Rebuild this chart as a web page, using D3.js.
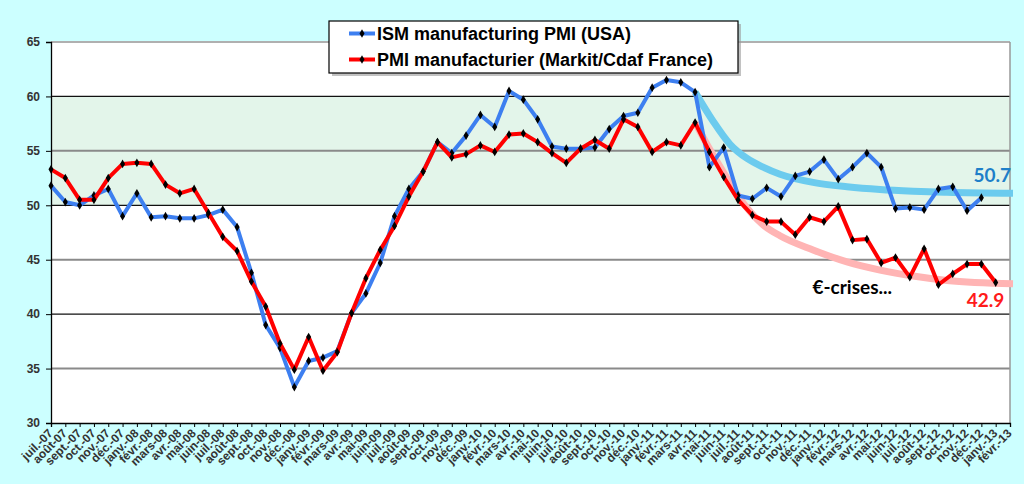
<!DOCTYPE html>
<html>
<head>
<meta charset="utf-8">
<script src="https://cdn.jsdelivr.net/npm/d3@7"></script>
<style>
  body { margin: 0; background: #ccffff; }
  svg { display: block; }
</style>
</head>
<body>
<svg id="chart"></svg>
<script>
/* Données */
const months = [
  'juil.-07','août-07','sept.-07','oct.-07','nov.-07','déc.-07',
  'janv.-08','févr.-08','mars-08','avr.-08','mai-08','juin-08','juil.-08','août-08','sept.-08','oct.-08','nov.-08','déc.-08',
  'janv.-09','févr.-09','mars-09','avr.-09','mai-09','juin-09','juil.-09','août-09','sept.-09','oct.-09','nov.-09','déc.-09',
  'janv.-10','févr.-10','mars-10','avr.-10','mai-10','juin-10','juil.-10','août-10','sept.-10','oct.-10','nov.-10','déc.-10',
  'janv.-11','févr.-11','mars-11','avr.-11','mai-11','juin-11','juil.-11','août-11','sept.-11','oct.-11','nov.-11','déc.-11',
  'janv.-12','févr.-12','mars-12','avr.-12','mai-12','juin-12','juil.-12','août-12','sept.-12','oct.-12','nov.-12','déc.-12',
  'janv.-13','févr.-13'
]

// ISM manufacturing PMI (USA), juil-07 -> déc-12
const ism = [
  51.8, 50.3, 50.0, 50.9, 51.5, 49.0,
  51.1, 48.9, 49.0, 48.8, 48.8, 49.1, 49.6, 48.0, 43.8, 39.0, 36.9, 33.3,
  35.7, 36.0, 36.6, 40.1, 41.9, 44.7, 49.0, 51.5, 53.1, 55.8, 54.8, 56.4,
  58.3, 57.2, 60.5, 59.7, 57.9, 55.4, 55.2, 55.2, 55.3, 57.0, 58.2, 58.5,
  60.8, 61.5, 61.3, 60.4, 53.5, 55.3, 50.9, 50.6, 51.6, 50.8, 52.7, 53.1,
  54.2, 52.4, 53.5, 54.8, 53.5, 49.7, 49.8, 49.6, 51.5, 51.7, 49.5, 50.7
]

// PMI manufacturier France, juil-07 -> janv-13
const pmiFr = [
  53.3, 52.5, 50.5, 50.5, 52.5, 53.8,
  53.9, 53.8, 51.9, 51.1, 51.5, 49.3, 47.1, 45.8, 43.0, 40.7, 37.3, 34.9,
  37.9, 34.8, 36.5, 40.1, 43.3, 45.9, 48.1, 50.8, 53.1, 55.8, 54.4, 54.7,
  55.5, 54.9, 56.5, 56.6, 55.8, 54.8, 53.9, 55.2, 56.0, 55.2, 57.9, 57.2,
  54.9, 55.8, 55.5, 57.6, 54.9, 52.6, 50.5, 49.1, 48.5, 48.5, 47.3, 48.9,
  48.5, 49.9, 46.8, 46.9, 44.7, 45.2, 43.4, 46.0, 42.7, 43.7, 44.6, 44.6,
  42.9
]

// courbes de tendance (position en mois, valeur)
const ismTrendPos = [45, 46.27, 47.44, 48.63, 49.75, 50.93, 53.24, 55.61, 57.92, 60.23, 62.6, 67.21]
const ismTrendVal = [60.4, 57.7, 55.6, 54.3, 53.5, 52.85, 52.1, 51.7, 51.45, 51.3, 51.2, 51.1]
const frTrendPos = [45, 46.0, 46.95, 48.14, 49.75, 50.93, 53.24, 55.61, 57.92, 60.23, 62.6, 67.21]
const frTrendVal = [57.6, 55.2, 53.1, 50.6, 48.2, 47.2, 45.9, 44.8, 44.05, 43.5, 43.1, 42.8]

const yTicks = [30, 35, 40, 45, 50, 55, 60, 65]
const seriesNames = ['ISM manufacturing PMI (USA)', 'PMI manufacturier (Markit/Cdaf France)']

/* Dimensions */
const width = 1024, height = 484
const margin = {top: 42, right: 14, bottom: 61, left: 51}

const svg = d3.select('#chart').attr('width', width).attr('height', height)

const xScale = d3.scaleLinear()
  .domain([0, months.length - 1])
  .range([margin.left, width - margin.right])

const yScale = d3.scaleLinear()
  .domain([30, 65])
  .range([height - margin.bottom, margin.top])

/* Fond de la zone de tracé */
svg.append('rect')
  .attr('x', margin.left).attr('y', margin.top)
  .attr('width', xScale.range()[1] - margin.left)
  .attr('height', yScale(30) - yScale(65))
  .attr('fill', '#fff')

// bande verte 50-60
svg.append('rect')
  .attr('x', margin.left).attr('y', yScale(60))
  .attr('width', xScale.range()[1] - margin.left)
  .attr('height', yScale(50) - yScale(60))
  .attr('fill', '#e3f5ea')

// grille
svg.append('g').selectAll('line')
  .data(yTicks.filter(d => d > 30))
  .join('line')
  .attr('x1', margin.left).attr('x2', xScale.range()[1])
  .attr('y1', d => yScale(d)).attr('y2', d => yScale(d))
  .attr('stroke', d => d % 10 === 0 ? '#111' : (d === 65 ? '#b0b0b0' : '#8a8a8a'))
  .attr('stroke-width', d => d % 10 === 0 ? 1.3 : 2)

// bord droit
svg.append('line')
  .attr('x1', xScale.range()[1]).attr('x2', xScale.range()[1])
  .attr('y1', margin.top).attr('y2', yScale(30))
  .attr('stroke', '#999').attr('stroke-width', 1.5)

/* Axes */
const yAxis = d3.axisLeft(yScale).tickValues(yTicks).tickSize(5).tickPadding(6)
const gy = svg.append('g')
  .attr('transform', 'translate(' + margin.left + ',0)')
  .call(yAxis)
gy.select('.domain').attr('stroke', '#000').attr('stroke-width', 1.3)
gy.selectAll('.tick line').attr('stroke', '#000')
gy.selectAll('text')
  .style('font', 'bold 12px "Liberation Sans", Arial, sans-serif')
  .attr('fill', '#333')

const xAxis = d3.axisBottom(xScale)
  .tickValues(d3.range(months.length))
  .tickSize(4)
  .tickFormat(i => months[i])
const gx = svg.append('g')
  .attr('transform', 'translate(0,' + yScale(30) + ')')
  .call(xAxis)
gx.select('.domain').attr('stroke', '#000').attr('stroke-width', 1.3)
gx.selectAll('.tick line').attr('stroke', '#000')
gx.selectAll('text')
  .style('font', 'bold 12px "Liberation Sans", Arial, sans-serif')
  .attr('fill', '#333')
  .attr('text-anchor', 'end')
  .attr('x', 0).attr('y', 0).attr('dy', 0)
  .attr('transform', 'translate(2,11) rotate(-45)')

/* Tendances */
const trendLine = d3.line()
  .x(d => xScale(d[0]))
  .y(d => yScale(d[1]))
  .curve(d3.curveMonotoneX)

svg.append('path')
  .datum(d3.zip(ismTrendPos, ismTrendVal))
  .attr('d', trendLine)
  .attr('fill', 'none')
  .attr('stroke', '#6ccbee')
  .attr('stroke-width', 7)

svg.append('path')
  .datum(d3.zip(frTrendPos, frTrendVal))
  .attr('d', trendLine)
  .attr('fill', 'none')
  .attr('stroke', '#ffb4b4')
  .attr('stroke-width', 7)

/* Séries */
const line = d3.line()
  .x((d, i) => xScale(i))
  .y(d => yScale(d))

const drawSerie = (values, color) => {
  svg.append('path')
    .datum(values)
    .attr('d', line)
    .attr('fill', 'none')
    .attr('stroke', color)
    .attr('stroke-width', 4)
    .attr('stroke-linejoin', 'round')

  svg.append('g').selectAll('path')
    .data(values)
    .join('path')
    .attr('d', d3.symbol(d3.symbolDiamond, 22))
    .attr('transform', (d, i) => 'translate(' + xScale(i) + ',' + yScale(d) + ')')
    .attr('fill', '#000')
}

drawSerie(ism, '#3d7ff0')
drawSerie(pmiFr, '#ff0000')

/* Annotations */
const annot = svg.append('g')
  .style('font-family', 'Lato, "Open Sans", sans-serif')
  .style('font-weight', 'bold')
  .style('font-size', '19px')

annot.append('text')
  .attr('x', xScale(67) + 1).attr('y', yScale(52.15))
  .attr('text-anchor', 'end')
  .attr('fill', '#1e7fc9')
  .text('50.7')

annot.append('text')
  .attr('x', xScale(66.6)).attr('y', yScale(40.7))
  .attr('text-anchor', 'end')
  .attr('fill', '#ff1a1a')
  .text('42.9')

annot.append('text')
  .attr('x', xScale(53.2)).attr('y', yScale(41.85))
  .attr('fill', '#000')
  .text('€-crises...')

/* Légende */
const legend = svg.append('g').attr('transform', 'translate(329,21)')

legend.append('rect')
  .attr('x', 3).attr('y', 3)
  .attr('width', 409).attr('height', 52)
  .attr('fill', '#999').attr('opacity', 0.6)
legend.append('rect')
  .attr('width', 409).attr('height', 52)
  .attr('fill', '#fff').attr('stroke', '#000').attr('stroke-width', 1.2)

const legendColors = ['#3d7ff0', '#ff0000']
seriesNames.forEach((name, i) => {
  const row = legend.append('g').attr('transform', 'translate(0,' + (12.5 + i * 26) + ')')
  row.append('line')
    .attr('x1', 20).attr('x2', 46)
    .attr('stroke', legendColors[i]).attr('stroke-width', 4)
  row.append('path')
    .attr('d', d3.symbol(d3.symbolDiamond, 22))
    .attr('transform', 'translate(33,0)')
  row.append('text')
    .attr('x', 48).attr('y', 6.5)
    .style('font', 'bold 18px "Liberation Sans", Arial, sans-serif')
    .attr('fill', '#000')
    .text(name)
})
</script>
</body>
</html>
